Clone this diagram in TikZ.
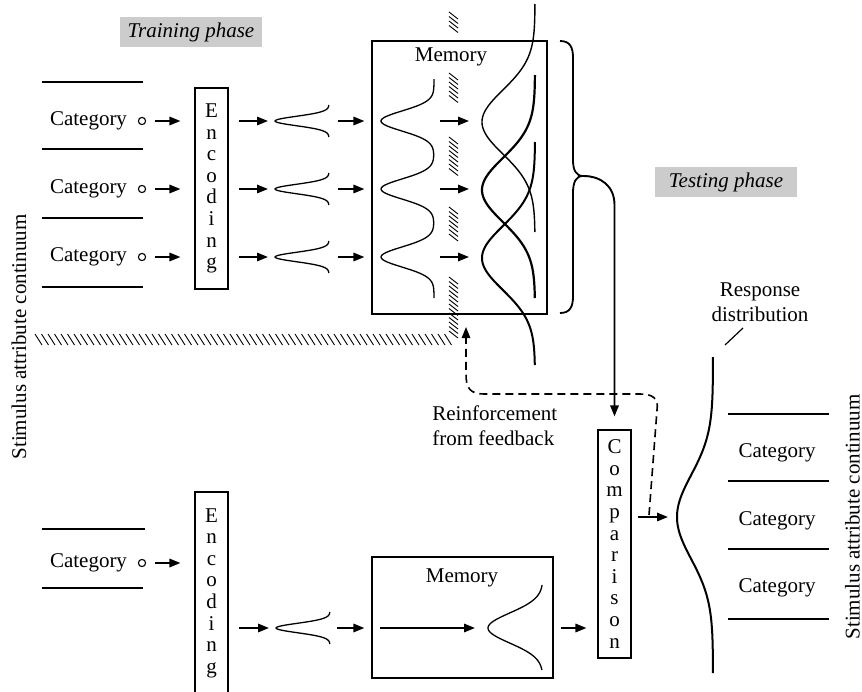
\documentclass[tikz,border=0pt]{standalone}
\usepackage{fontspec}
\setmainfont{Liberation Serif}
\usetikzlibrary{arrows.meta}
\begin{document}
\begin{tikzpicture}[x=0.5pt,y=-0.5pt,
  txt/.style={font=\fontsize{10.5}{12.5}\selectfont, inner sep=0pt},
  vbox/.style={draw, line width=0.55pt, inner sep=0pt, minimum width=16.5pt, align=center, font=\fontsize{10.5}{10.8}\selectfont},
  membox/.style={draw, line width=0.6pt, inner sep=0pt},
  phase/.style={fill=black!20, inner sep=0pt, minimum width=71pt, minimum height=15pt, font=\fontsize{10.5}{12.5}\selectfont\itshape},
  arr/.style={line width=0.95pt, -{Triangle[length=5.5pt,width=4.2pt]}},
  sep/.style={line width=0.6pt},
  dot/.style={circle, draw, line width=0.55pt, inner sep=0pt, minimum size=3.6pt},
  gauss/.style={line width=0.65pt},
  hatch/.style={line width=0.45pt},
  fb/.style={line width=0.8pt, dash pattern=on 4pt off 2.5pt, -{Triangle[length=5.5pt,width=4.2pt]}},
]
\useasboundingbox (0,0) rectangle (862,691);

% phase labels
\node[phase] (train) at (191,32) {Training phase};
\node[phase] (test) at (726,182) {Testing phase};

% ---------- training phase ----------
\foreach \yy in {82,149,218,287} \draw[sep] (42,\yy) -- (143,\yy);
\node[vbox, minimum height=100.5pt] (enc1) at (211.5,188.5) {E\\n\\c\\o\\d\\i\\n\\g};
\node[membox, minimum width=87.5pt, minimum height=136.5pt] (mem1) at (459.5,177.5) {};
\node[txt] (mem1lab) at (451,57) {Memory};

\foreach \yy/\n in {121/1,189/2,257/3} {
  \node[txt] (cat\n) at (88.5,\yy) {Category};
  \node[dot] (d\n) at (142,\yy) {};
  \coordinate (sg\n) at (275,\yy);
  \coordinate (sgb\n) at (329,\yy);
  \coordinate (mt\n) at (434,\yy);
  \coordinate (rg\n) at (482,\yy);
  \draw[arr, shorten <=4.5pt, shorten >=7pt] (d\n) -- (d\n -| enc1.west);
  \draw[arr, shorten <=5pt, shorten >=3.5pt] (enc1.east |- sg\n) -- (sg\n);
  \draw[gauss] plot[domain=-16:16, samples=41, smooth] ({329-54*exp(-((\x)/4.7)^2/2)}, {\yy+\x});
  \draw[arr, shorten <=4.5pt, shorten >=3.5pt] (sgb\n) -- (sgb\n -| mem1.west);
  \draw[arr, shorten <=3pt, shorten >=6.5pt] (mt\n) -- (rg\n);
}

% memory: narrow traces
\draw[gauss] plot[domain=79:298, samples=160, smooth]
  ({434-53*(exp(-((\x-121)/10)^2/2)+exp(-((\x-189)/10)^2/2)+exp(-((\x-257)/10)^2/2))}, {\x});

% memory: broad overlapping distributions
\draw[line width=0.7pt] plot[domain=-118:110, samples=120, smooth] ({535-53*exp(-((\x)/32)^2/2)}, {122+\x});
\draw[line width=1.1pt] plot[domain=-115:108, samples=120, smooth] ({535-53*exp(-((\x)/32)^2/2)}, {190+\x});
\draw[line width=1pt] plot[domain=-116:107, samples=120, smooth] ({535-53*exp(-((\x)/32)^2/2)}, {258+\x});

% hatched boundaries
\foreach \t in {12,16.5,...,28} \draw[hatch] (449,\t) -- (458,\t+7);
\foreach \t in {73,77.5,...,99} \draw[hatch] (449,\t) -- (458,\t+7);
\foreach \t in {137,141.5,...,170} \draw[hatch] (449,\t) -- (458,\t+7);
\foreach \t in {207,211.5,...,237} \draw[hatch] (449,\t) -- (458,\t+7);
\foreach \t in {277,281.5,...,334} \draw[hatch] (449,\t) -- (458,\t+7);
\foreach \t in {35,41.5,...,445} \draw[hatch] (\t,334) -- (\t+7,345);

% brace and connector to comparison
\coordinate (btip) at (583,176);
\draw[line width=0.9pt] (560,41) .. controls (570,41) and (573,47) .. (573,58) -- (573,160)
  .. controls (573,170) and (576,176) .. (btip)
  .. controls (576,176) and (573,182) .. (573,193) -- (573,296)
  .. controls (573,307) and (570,313) .. (560,313);
\node[vbox, minimum height=114pt] (cmp) at (614.5,544) {C\\o\\m\\p\\a\\r\\i\\s\\o\\n};
\coordinate (bturn) at (614.5,205);
\draw[arr, shorten >=6.5pt] (btip) .. controls (601,176) and (614.5,186) .. (bturn) -- (cmp.north);

% response distribution
\coordinate (rd) at (677,517);
\draw[line width=1pt] plot[domain=-160:156, samples=120, smooth] ({713-36*exp(-((\x)/42)^2/2)}, {517+\x});
\draw[arr, shorten <=3pt, shorten >=4.5pt] (cmp.east |- rd) -- (rd);
\node[txt, align=center] (rlab) at (760,302.5) {Response\\distribution};
\coordinate (rtip) at (725,345);
\draw[sep] (743,328) -- (rtip);

% right categories
\foreach \yy in {414,481,549,619} \draw[sep] (728,\yy) -- (829,\yy);
\node[txt] (rc1) at (777,453) {Category};
\node[txt] (rc2) at (777,521) {Category};
\node[txt] (rc3) at (777,588) {Category};

% continuum labels
\node[txt, rotate=90] (lcont) at (19,337) {Stimulus attribute continuum};
\node[txt, rotate=90] (rcont) at (852.5,517) {Stimulus attribute continuum};

% feedback
\node[txt, align=left, anchor=west] (reinf) at (432,425.5) {Reinforcement\\from feedback};
\coordinate (fbs) at (649,515);
\coordinate (fbend) at (466,327);
\draw[fb] (fbs) -- (657,410) .. controls (659,398) and (652,394) .. (640,394) -- (484,394)
  .. controls (470,394) and (466,388) .. (466,374) -- (fbend);

% ---------- testing phase ----------
\draw[sep] (42,529) -- (145,529);
\draw[sep] (42,588) -- (143,588);
\node[txt] (cat4) at (88.5,563) {Category};
\node[dot] (d4) at (142,563) {};
\node[vbox, minimum height=101pt] (enc2) at (211.5,593) {E\\n\\c\\o\\d\\i\\n\\g};
\draw[arr, shorten <=4.5pt, shorten >=7pt] (d4) -- (d4 -| enc2.west);
\coordinate (sg4) at (276,628);
\coordinate (sgb4) at (330,628);
\draw[arr, shorten <=5pt, shorten >=3.5pt] (enc2.east |- sg4) -- (sg4);
\draw[gauss] plot[domain=-16:16, samples=41, smooth] ({330-54*exp(-((\x)/4.7)^2/2)}, {628+\x});
\node[membox, minimum width=90.5pt, minimum height=60.5pt] (mem2) at (462.5,617.5) {};
\node[txt] (mem2lab) at (462,578) {Memory};
\draw[arr, shorten <=3.5pt, shorten >=3.5pt] (sgb4) -- (sgb4 -| mem2.west);
\coordinate (mg) at (488,628);
\draw[arr, shorten <=4.5pt, shorten >=6.5pt] (mem2.west |- mg) -- (mg);
\draw[gauss] plot[domain=-43:42, samples=60, smooth] ({543-55*exp(-((\x)/15)^2/2)}, {628+\x});
\draw[arr, shorten <=3.5pt, shorten >=5.5pt] (mem2.east |- mg) -- (mg -| cmp.west);
\end{tikzpicture}
\end{document}
